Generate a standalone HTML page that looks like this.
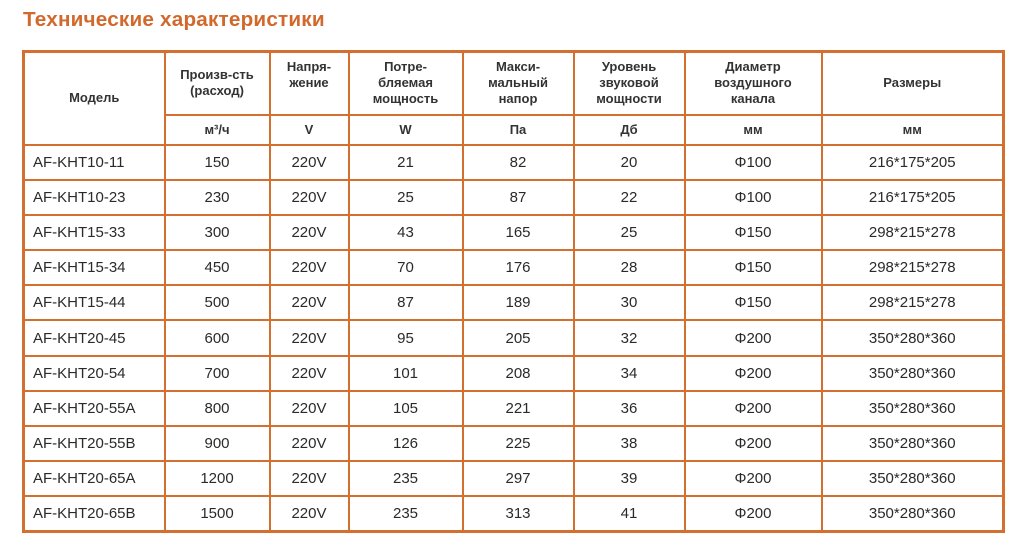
<!DOCTYPE html>
<html><head><meta charset="utf-8"><style>
html,body{margin:0;padding:0;background:#fff;width:1024px;height:548px;overflow:hidden;font-family:"Liberation Sans","DejaVu Sans",sans-serif;color:#2a2a2a}
h1{position:absolute;left:23px;top:8px;margin:0;font-size:20.7px;font-weight:bold;color:#d2692c;letter-spacing:0.2px}
table{position:absolute;left:22px;top:50px;border-collapse:collapse;table-layout:fixed;border:3px solid #d4702f}
td{border:2px solid #d4702f;text-align:center;vertical-align:middle;padding:0;font-size:15px;height:35.2px;box-sizing:border-box}
td.m{text-align:left;padding-left:8px}
tr.h1 td{font-size:13px;line-height:16px;height:63px;font-weight:bold;color:#333}
tr.h2 td{font-size:13px;height:30px;font-weight:bold;color:#333}
</style></head><body>
<h1>Технические характеристики</h1>
<table>
<colgroup><col style="width:141px"><col style="width:105px"><col style="width:79px"><col style="width:114px"><col style="width:111px"><col style="width:111px"><col style="width:137px"><col style="width:182px"></colgroup>
<tr class="h1"><td rowspan="2" style="height:93px">Модель</td><td>Произв-сть<br>(расход)</td><td>Напря-<br>жение<br>&nbsp;</td><td>Потре-<br>бляемая<br>мощность</td><td>Макси-<br>мальный<br>напор</td><td>Уровень<br>звуковой<br>мощности</td><td>Диаметр<br>воздушного<br>канала</td><td>Размеры</td></tr>
<tr class="h2"><td>м³/ч</td><td>V</td><td>W</td><td>Па</td><td>Дб</td><td>мм</td><td>мм</td></tr>
<tr><td class="m">AF-KHT10-11</td><td>150</td><td>220V</td><td>21</td><td>82</td><td>20</td><td>Φ100</td><td>216*175*205</td></tr>
<tr><td class="m">AF-KHT10-23</td><td>230</td><td>220V</td><td>25</td><td>87</td><td>22</td><td>Φ100</td><td>216*175*205</td></tr>
<tr><td class="m">AF-KHT15-33</td><td>300</td><td>220V</td><td>43</td><td>165</td><td>25</td><td>Φ150</td><td>298*215*278</td></tr>
<tr><td class="m">AF-KHT15-34</td><td>450</td><td>220V</td><td>70</td><td>176</td><td>28</td><td>Φ150</td><td>298*215*278</td></tr>
<tr><td class="m">AF-KHT15-44</td><td>500</td><td>220V</td><td>87</td><td>189</td><td>30</td><td>Φ150</td><td>298*215*278</td></tr>
<tr><td class="m">AF-KHT20-45</td><td>600</td><td>220V</td><td>95</td><td>205</td><td>32</td><td>Φ200</td><td>350*280*360</td></tr>
<tr><td class="m">AF-KHT20-54</td><td>700</td><td>220V</td><td>101</td><td>208</td><td>34</td><td>Φ200</td><td>350*280*360</td></tr>
<tr><td class="m">AF-KHT20-55A</td><td>800</td><td>220V</td><td>105</td><td>221</td><td>36</td><td>Φ200</td><td>350*280*360</td></tr>
<tr><td class="m">AF-KHT20-55B</td><td>900</td><td>220V</td><td>126</td><td>225</td><td>38</td><td>Φ200</td><td>350*280*360</td></tr>
<tr><td class="m">AF-KHT20-65A</td><td>1200</td><td>220V</td><td>235</td><td>297</td><td>39</td><td>Φ200</td><td>350*280*360</td></tr>
<tr><td class="m">AF-KHT20-65B</td><td>1500</td><td>220V</td><td>235</td><td>313</td><td>41</td><td>Φ200</td><td>350*280*360</td></tr>
</table>
</body></html>
